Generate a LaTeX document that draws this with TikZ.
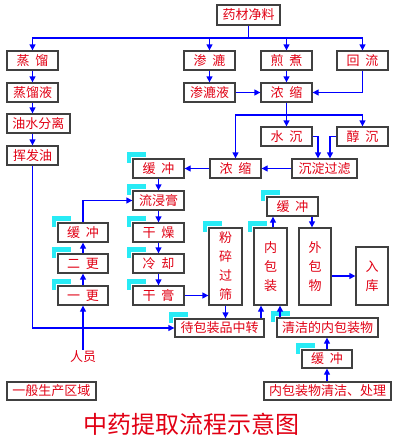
\documentclass[tikz,border=0pt]{standalone}
\usepackage{fontspec}
\newfontfamily\cjk{Noto Sans CJK SC}
\usetikzlibrary{arrows.meta}
\definecolor{txtred}{RGB}{225,0,20}
\definecolor{lnblue}{RGB}{0,0,255}
\definecolor{tagcyan}{RGB}{40,235,245}
\tikzset{
 box/.style={draw=black!75, line width=1.3pt, fill=white, text=txtred, font=\cjk\fontsize{13}{19}\selectfont, inner sep=0pt, align=center},
 conn/.style={draw=lnblue, line width=1.3pt},
 arr/.style={conn, -{Triangle[length=6pt,width=6pt]}},
}
\newcommand\cyantag[1]{\fill[tagcyan] ([shift={(-5.5pt,6pt)}]#1.north west) rectangle ([shift={(14pt,1.5pt)}]#1.north west); \fill[tagcyan] ([shift={(-5.5pt,6pt)}]#1.north west) rectangle ([shift={(-1pt,-5pt)}]#1.north west);}
\newcommand\gp{\hspace{6pt}}
\begin{document}
\begin{tikzpicture}[x=1pt,y=-1pt]
\useasboundingbox (0,0) rectangle (400,447);
% nodes
\node[box,minimum width=63pt,minimum height=20pt] (src) at (248.5,15) {药材净料};
\node[box,minimum width=51pt,minimum height=19pt] (zl) at (32.5,60.5) {蒸\gp 馏};
\node[box,minimum width=51pt,minimum height=19pt] (zly) at (32.5,92.5) {蒸馏液};
\node[box,minimum width=63pt,minimum height=19pt] (ysfl) at (38.5,123.5) {油水分离};
\node[box,minimum width=51pt,minimum height=19pt] (hfy) at (32.5,155.5) {挥发油};
\node[box,minimum width=51pt,minimum height=19pt] (sl) at (209.5,60.5) {渗\gp 漉};
\node[box,minimum width=51pt,minimum height=19pt] (sly) at (209.5,92.5) {渗漉液};
\node[box,minimum width=51pt,minimum height=19pt] (jz) at (286.5,60.5) {煎\gp 煮};
\node[box,minimum width=51pt,minimum height=19pt] (hl) at (362.5,60.5) {回\gp 流};
\node[box,minimum width=51pt,minimum height=19pt] (ns1) at (286.5,92.5) {浓\gp 缩};
\node[box,minimum width=51pt,minimum height=19pt] (sc) at (286.5,136.5) {水\gp 沉};
\node[box,minimum width=51pt,minimum height=19pt] (cc) at (362.5,136.5) {醇\gp 沉};
\node[box,minimum width=65pt,minimum height=19pt] (cdgl) at (324.5,168.5) {沉淀过滤};
\node[box,minimum width=51pt,minimum height=19pt] (ns2) at (235.5,168.5) {浓\gp 缩};
\node[box,minimum width=51pt,minimum height=19pt] (hc1) at (158.5,168.5) {缓\gp 冲};
\node[box,minimum width=51pt,minimum height=19pt] (ljg) at (158.5,200.5) {流浸膏};
\node[box,minimum width=51pt,minimum height=19pt] (gz) at (158.5,232.5) {干\gp 燥};
\node[box,minimum width=51pt,minimum height=19pt] (lq) at (158.5,263.5) {冷\gp 却};
\node[box,minimum width=51pt,minimum height=19pt] (gg) at (158.5,295.5) {干\gp 膏};
\node[box,minimum width=50pt,minimum height=19pt] (hc2) at (83,232.5) {缓\gp 冲};
\node[box,minimum width=50pt,minimum height=19pt] (eg) at (83,263.5) {二\gp 更};
\node[box,minimum width=50pt,minimum height=19pt] (yg) at (83,295.5) {一\gp 更};
\node[box,minimum width=33pt,minimum height=77pt] (fsgs) at (225.5,266.5) {粉\\碎\\过\\筛};
\node[box,minimum width=33pt,minimum height=77pt] (nbz) at (270.5,266.5) {内\\包\\装};
\node[box,minimum width=32pt,minimum height=77pt] (wbw) at (315,266.5) {外\\包\\物};
\node[box,minimum width=32pt,minimum height=58pt] (rk) at (372,276) {入\\库};
\node[box,minimum width=51pt,minimum height=19pt] (hc3) at (292.5,206.5) {缓\gp 冲};
\node[box,minimum width=89pt,minimum height=18pt] (dbz) at (219.5,328) {待包装品中转};
\node[box,minimum width=101pt,minimum height=19pt] (qj) at (327.5,327.5) {清洁的内包装物};
\node[box,minimum width=50pt,minimum height=18pt] (hc4) at (327,359) {缓\gp 冲};
\node[box,minimum width=127pt,minimum height=18pt] (nbcl) at (327.5,391) {内包装物清洁、处理};
\node[box,minimum width=89pt,minimum height=18pt] (ybsc) at (51.5,391) {一般生产区域};
\node[text=txtred,font=\cjk\fontsize{13}{15}\selectfont,inner sep=1pt] (ry) at (83,357) {人员};
\node[text=txtred,font=\cjk\fontsize{24}{26}\selectfont,inner sep=0pt] (title) at (191,424) {中药提取流程示意图};
% tags
\foreach \n in {hc1,ljg,gz,lq,gg,hc2,eg,yg,fsgs,nbz,hc3,dbz,qj,hc4}{\cyantag{\n}}
% connectors
\coordinate (j1) at (248.5,38);
\coordinate (j2) at (286.5,115);
\draw[conn] (src.south) -- (j1);
\draw[arr] (j1) -| (zl.north);
\draw[arr] (j1) -| (hl.north);
\draw[arr] (sl.north |- j1) -- (sl.north);
\draw[arr] (jz.north |- j1) -- (jz.north);
\draw[arr] (zl) -- (zly);
\draw[arr] (zly) -- (zly.south |- ysfl.north);
\draw[arr] (zly.south |- ysfl.south) -- (hfy.north);
\draw[arr] (sl) -- (sly);
\draw[arr] (jz) -- (ns1);
\draw[arr] (sly) -- (ns1);
\draw[arr] (hl.south) |- (ns1.east);
\draw[arr] (ns1) -- (sc);
\draw[arr] (j2) -| (cc.north);
\draw[arr] (j2) -| (ns2.north);
\draw[arr] (sc.east) -| ([xshift=-6.5pt]cdgl.north);
\draw[arr] (cc.west) -| ([xshift=5.5pt]cdgl.north);
\draw[arr] (cdgl) -- (ns2);
\draw[arr] (ns2) -- (hc1);
\draw[arr] (hc1) -- (ljg);
\draw[arr] (ljg) -- (gz);
\draw[arr] (gz) -- (lq);
\draw[arr] (lq) -- (gg);
\draw[arr] (yg) -- (eg);
\draw[arr] (eg) -- (hc2);
\draw[arr] (hc2.north) |- (ljg.west);
\draw[arr] (gg.east) -- (gg.east -| fsgs.west);
\draw[arr] (fsgs.south) -- (fsgs.south |- dbz.north);
\draw[arr] (hfy.south) |- (dbz.west);
\draw[arr] (ry.north) -- (yg.south);
\draw[arr] ([xshift=-9.5pt]nbz.south |- dbz.north) -- ([xshift=-9.5pt]nbz.south);
\draw[arr] ([xshift=9.5pt]nbz.south |- qj.north) -- ([xshift=9.5pt]nbz.south);
\draw[arr] ([xshift=2.5pt]nbz.north) -- ([xshift=2.5pt]nbz.north |- hc3.south);
\draw[arr] ([xshift=-3pt]wbw.north |- hc3.south) -- ([xshift=-3pt]wbw.north);
\draw[arr] (wbw.east |- rk.west) -- (rk.west);
\draw[arr] (hc4.north) -- (hc4.north |- qj.south);
\draw[arr] (hc4.south |- nbcl.north) -- (hc4.south);
\end{tikzpicture}
\end{document}
